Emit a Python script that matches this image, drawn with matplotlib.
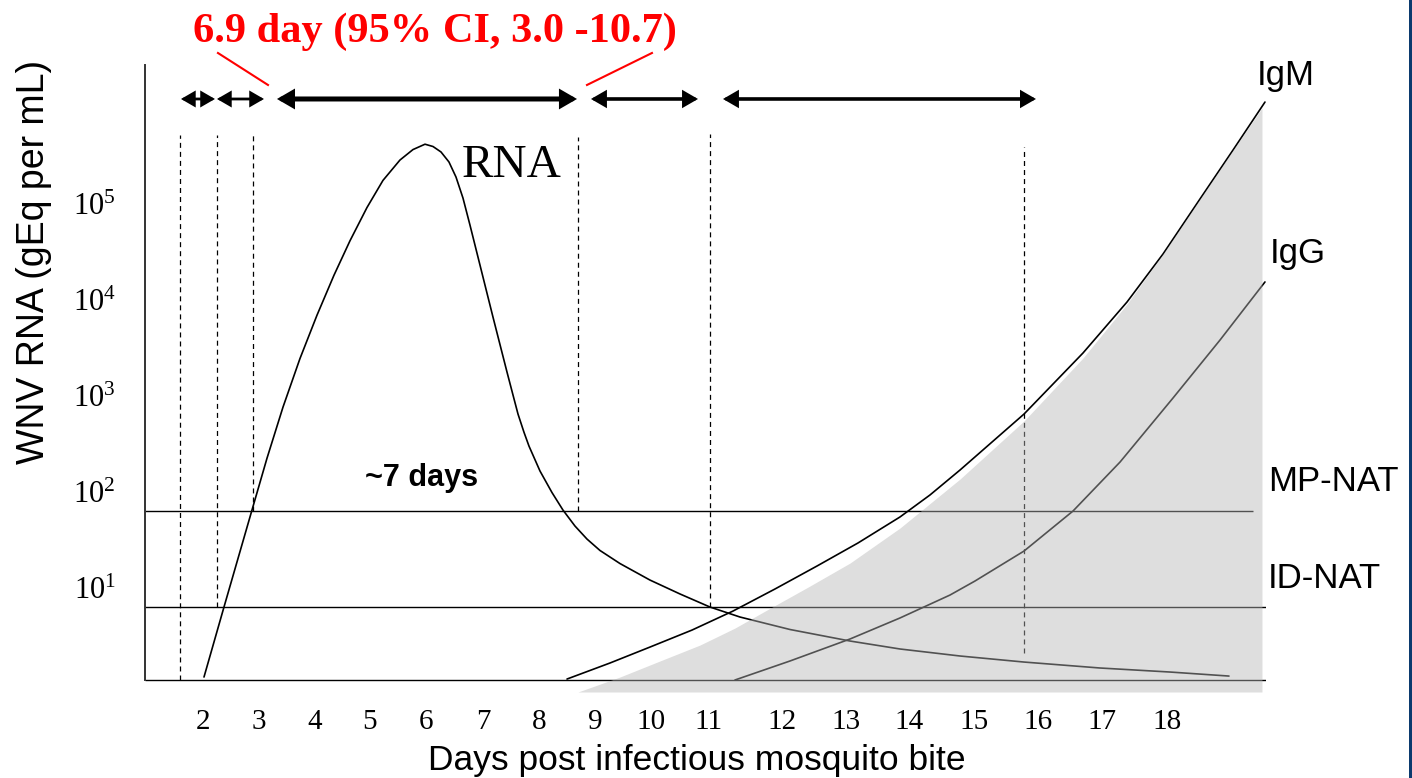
import numpy as np
import matplotlib
matplotlib.use("Agg")
import matplotlib.pyplot as plt
from matplotlib.patches import Rectangle
from matplotlib.ticker import NullLocator

plt.rcParams['mathtext.fontset'] = 'custom'
plt.rcParams['mathtext.rm'] = 'Liberation Serif'
plt.rcParams['lines.scale_dashes'] = False

# ---------------- data ----------------
day_ticks = [2.0, 2.93, 3.86, 4.77, 5.70, 6.65, 7.58, 8.51, 9.44, 10.39,
             11.62, 12.68, 13.73, 14.81, 15.87, 16.93, 18.01]
day_labels = [str(d) for d in range(2, 19)]
decades = [1, 2, 3, 4, 5]

# RNA curve (days, log10 gEq/mL)
rna_day = [2.017, 2.349, 2.814, 3.063, 3.329, 3.611, 3.894, 4.176, 4.442, 4.724,
           4.990, 5.272, 5.488, 5.688, 5.821, 5.954, 6.086, 6.203, 6.319, 6.435,
           6.601, 6.817, 7.050, 7.150, 7.233, 7.332, 7.415, 7.598, 7.797, 7.980,
           8.179, 8.379, 8.595, 8.927, 9.425, 9.924, 10.422, 10.920, 11.751,
           12.748, 13.578, 14.575, 15.638, 16.900, 18.063, 19.043]
rna_log = [0.073, 0.802, 1.812, 2.351, 2.884, 3.390, 3.842, 4.258, 4.617, 4.963,
           5.246, 5.458, 5.567, 5.623, 5.599, 5.542, 5.438, 5.281, 5.062, 4.781,
           4.365, 3.823, 3.250, 3.010, 2.812, 2.623, 2.479, 2.219, 1.995, 1.812,
           1.646, 1.510, 1.391, 1.255, 1.083, 0.938, 0.802, 0.698, 0.568,
           0.448, 0.365, 0.292, 0.229, 0.167, 0.125, 0.083]

# IgM curve
igm_day = [8.047, 8.761, 9.425, 10.123, 10.804, 11.502, 12.199, 12.880, 13.578,
           14.076, 14.575, 15.638, 16.618, 17.349, 17.947, 18.561, 19.110, 19.641]
igm_log = [0.052, 0.219, 0.385, 0.562, 0.760, 0.990, 1.229, 1.469, 1.740,
           1.969, 2.229, 2.812, 3.448, 3.979, 4.479, 5.052, 5.562, 6.062]

# IgG curve
igg_day = [10.837, 11.751, 12.748, 13.578, 14.409, 14.824, 15.638, 16.452,
           17.233, 18.113, 18.894, 19.641]
igg_log = [0.042, 0.240, 0.469, 0.688, 0.927, 1.073, 1.385, 1.802,
           2.312, 2.979, 3.583, 4.188]

# shaded antibody region (upper boundary)
shade_day = [8.229, 8.927, 9.591, 10.256, 10.837, 11.369, 12.083, 12.748, 13.578,
             14.575, 15.638, 16.618, 17.349, 17.947, 18.561, 19.110, 19.591]
shade_log = [-0.083, 0.073, 0.240, 0.406, 0.583, 0.771, 1.021, 1.260, 1.625,
             2.135, 2.740, 3.396, 3.958, 4.479, 5.052, 5.562, 6.000]

# detection thresholds (log10)
baseline_log = 0.042
mp_nat_log = 1.802
id_nat_log = 0.802

# dashed period boundaries
period_day = [1.618, 2.233, 2.831, 8.229, 10.422, 15.638]
period_top = [5.719, 5.719, 5.719, 5.698, 5.729, 5.594]
period_bottom = [0.042, 0.802, 1.802, 1.802, 0.802, 0.323]

# arrow spans
span_start = [1.635, 2.233, 3.229, 8.445, 10.638]
span_end = [2.199, 3.013, 8.213, 10.223, 15.837]
span_lw = [2.0, 2.0, 3.6, 2.6, 2.6]
span_log = 6.094

# ---------------- figure ----------------
W, H = 1412, 778
fig = plt.figure(figsize=(W / 100, H / 100), dpi=100)
fig.patch.set_facecolor('white')

# axes box in pixels: x 145..1266, y 65..692
ax = fig.add_axes([145 / W, (H - 692) / H, (1266 - 145) / W, (692 - 65) / H])
ax.set_yscale('log')
ax.set_xlim(1.037, 19.658)
ax.set_ylim(10 ** -0.083, 10 ** 6.448)
ax.patch.set_alpha(0)

for s in ['top', 'right', 'bottom']:
    ax.spines[s].set_visible(False)
ax.spines['left'].set_bounds(10 ** baseline_log, 10 ** 6.448)
ax.spines['left'].set_linewidth(1.4)
ax.spines['left'].set_color('#333333')

ax.set_xticks(day_ticks, labels=day_labels)
ax.set_yticks([10.0 ** k for k in decades],
              labels=[r'$\mathregular{10^{%d}}$' % k for k in decades])
ax.yaxis.set_minor_locator(NullLocator())
ax.xaxis.set_minor_locator(NullLocator())
ax.tick_params(axis='x', length=0, pad=12, labelsize=21)
ax.tick_params(axis='y', length=0, pad=21, labelsize=22)
for lab in ax.get_xticklabels() + ax.get_yticklabels():
    lab.set_fontfamily('Liberation Serif')

# horizontal lines
ax.hlines(10 ** baseline_log, 1.037, 19.658, color='black', lw=1.0, zorder=2)
ax.hlines(10 ** id_nat_log, 1.037, 19.658, color='black', lw=1.0, zorder=2)
ax.hlines(10 ** mp_nat_log, 1.037, 19.442, color='black', lw=1.0, zorder=2)

# dashed period boundaries
for x, t, b in zip(period_day, period_top, period_bottom):
    ax.plot([x, x], [10 ** b, 10 ** t], color='black', lw=0.9,
            dashes=(3.6, 2.9), zorder=2)

# curves
for xs, ys in [(rna_day, rna_log), (igm_day, igm_log), (igg_day, igg_log)]:
    ax.plot(xs, 10 ** np.array(ys), color='black', lw=1.2, zorder=2,
            solid_joinstyle='round', solid_capstyle='round')

# shaded region (semi-transparent, on top of lines)
ax.fill_between(shade_day, 10 ** np.array(shade_log), 10 ** -0.083,
                color='#b6b6b6', alpha=0.45, lw=0, zorder=3)

# arrows
for a, b, lw in zip(span_start, span_end, span_lw):
    ax.annotate('', xy=(b, 10 ** span_log), xytext=(a, 10 ** span_log),
                arrowprops=dict(arrowstyle='<|-|>,head_length=0.38,head_width=0.22',
                                mutation_scale=20, lw=lw, color='black',
                                shrinkA=0, shrinkB=0, joinstyle='miter'),
                annotation_clip=False)

# red pointer lines
ax.plot([2.249, 3.080], [10 ** 6.573, 10 ** 6.24], color='red', lw=1.5, clip_on=False)
ax.plot([8.379, 9.458], [10 ** 6.24, 10 ** 6.573], color='red', lw=1.5, clip_on=False)

# ---------------- texts ----------------
def fx(px):
    return px / W

def fy(py):
    return 1 - py / H

fig.text(fx(435), fy(42), '6.9 day (95% CI, 3.0 -10.7)', color='red',
         fontsize=30.5, fontweight='bold', family='Liberation Serif',
         ha='center', va='baseline')
fig.text(fx(462), fy(177), 'RNA', fontsize=34, family='Liberation Serif',
         ha='left', va='baseline')
fig.text(fx(365), fy(486), '~7 days', fontsize=22, fontweight='bold',
         family='Liberation Sans', ha='left', va='baseline')
fig.text(fx(1257), fy(85), 'IgM', fontsize=25, family='Liberation Sans',
         ha='left', va='baseline')
fig.text(fx(1270), fy(263), 'IgG', fontsize=25, family='Liberation Sans',
         ha='left', va='baseline')
fig.text(fx(1268), fy(491), 'MP-NAT', fontsize=25, family='Liberation Sans',
         ha='left', va='baseline')
fig.text(fx(1268), fy(588), 'ID-NAT', fontsize=25, family='Liberation Sans',
         ha='left', va='baseline')
fig.text(fx(697), fy(770), 'Days post infectious mosquito bite', fontsize=25.5,
         family='Liberation Sans', ha='center', va='baseline')
fig.text(fx(34), fy(262), 'WNV RNA (gEq per mL)', fontsize=27,
         family='Liberation Sans', ha='center', va='center', rotation=90)

# right border
fig.patches.append(Rectangle((1409 / W, 0), 3 / W, 1, transform=fig.transFigure,
                             color='#0b3a6e', lw=0))

fig.savefig('out.png', dpi=100)
